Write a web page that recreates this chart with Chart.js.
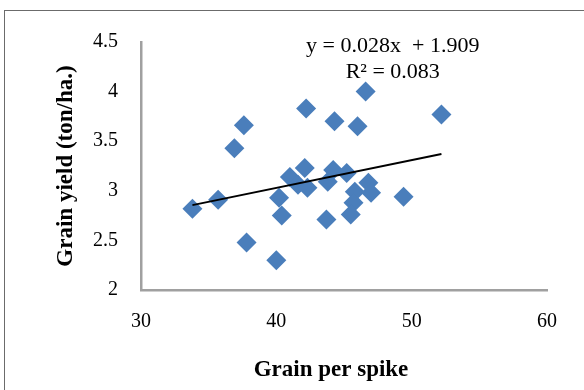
<!DOCTYPE html>
<html>
<head>
<meta charset="utf-8">
<script src="https://cdn.jsdelivr.net/npm/chart.js@4.4.1/dist/chart.umd.min.js"></script>
<style>
html,body{margin:0;padding:0;background:#fff;overflow:hidden;}
#wrap{position:relative;width:584px;height:390px;}
#frame{position:absolute;left:4px;top:10px;width:620px;height:420px;border:1.5px solid #6b6b6b;box-sizing:border-box;pointer-events:none;}
canvas{position:absolute;left:0;top:0;}
</style>
</head>
<body>
<div id="wrap">
<canvas id="c" width="584" height="390"></canvas>
<div id="frame"></div>
</div>
<script>
const grainPerSpike = [33.8, 35.7, 36.9, 37.6, 37.8, 40.0, 40.2, 40.4, 42.2, 41.0, 41.6, 42.3, 42.1, 43.7, 43.8, 44.2, 45.2, 45.8, 46.8, 47.0, 45.7, 45.5, 49.4, 44.3, 46.0, 46.6, 52.2];
const grainYield   = [2.82, 2.91, 3.43, 3.66, 2.48, 2.30, 2.93, 2.75, 3.83, 3.14, 3.06, 3.03, 3.23, 2.71, 3.09, 3.21, 3.18, 2.99, 3.08, 2.98, 2.88, 2.76, 2.94, 3.70, 3.65, 4.00, 3.77];
const xTicks = [30, 40, 50, 60];
const yTicks = [2, 2.5, 3, 3.5, 4, 4.5];
const slope = 0.028, intercept = 1.909;
const eqLabel = "y = 0.028x  + 1.909";
const r2Label = "R² = 0.083";
const xTitle = "Grain per spike";
const yTitle = "Grain yield (ton/ha.)";

const points = grainPerSpike.map((x, i) => ({x: x, y: grainYield[i]}));
const xmin = Math.min(...grainPerSpike), xmax = Math.max(...grainPerSpike);
const trend = [xmin, xmax].map(x => ({x: x, y: slope * x + intercept}));

const serif = "'Liberation Serif', 'Times New Roman', serif";

const textPlugin = {
  id: 'texts',
  afterDatasetsDraw(chart) {
    const ctx = chart.ctx, a = chart.chartArea;
    ctx.save();
    ctx.fillStyle = '#000';
    ctx.textAlign = 'center';
    ctx.textBaseline = 'middle';
    ctx.font = "22px " + serif;
    const cx = a.left + (a.right - a.left) * 0.62;
    ctx.fillText(eqLabel, cx, a.top + 4);
    ctx.fillText(r2Label, cx, a.top + 30);
    // axis titles
    ctx.font = "bold 23px " + serif;
    ctx.fillText(xTitle, a.left + (a.right - a.left) * 0.468, a.bottom + 80);
    ctx.translate(66, a.top + (a.bottom - a.top) * 0.5);
    ctx.rotate(-Math.PI / 2);
    ctx.fillText(yTitle, 0, 0);
    ctx.restore();
  }
};

new Chart(document.getElementById('c'), {
  type: 'scatter',
  data: {
    datasets: [
      {
        data: points,
        pointStyle: 'rectRot',
        pointRadius: 10,
        pointHoverRadius: 10,
        backgroundColor: '#4a7ebb',
        borderColor: '#4a7ebb',
        borderWidth: 0,
        order: 2
      },
      {
        type: 'line',
        data: trend,
        borderColor: '#000',
        borderWidth: 2,
        pointRadius: 0,
        fill: false,
        order: 1
      }
    ]
  },
  options: {
    responsive: false,
    animation: false,
    events: [],
    layout: { padding: { left: 0, right: 37, top: 42, bottom: 0 } },
    plugins: { legend: { display: false }, tooltip: { enabled: false } },
    scales: {
      x: {
        type: 'linear',
        min: xTicks[0], max: xTicks[xTicks.length - 1],
        afterBuildTicks(s) { s.ticks = xTicks.map(v => ({value: v})); },
        grid: { display: false, drawTicks: false },
        border: { display: true, color: '#a0a0a0', width: 2.5 },
        ticks: { color: '#000', font: { family: serif, size: 20 }, padding: 20, maxRotation: 0 },
        afterFit(s) { s.height = 100; }
      },
      y: {
        type: 'linear',
        min: yTicks[0], max: yTicks[yTicks.length - 1],
        afterBuildTicks(s) { s.ticks = yTicks.map(v => ({value: v})); },
        grid: { display: false, drawTicks: false },
        border: { display: true, color: '#a0a0a0', width: 2.5 },
        ticks: { color: '#000', font: { family: serif, size: 20 }, padding: 23, callback: v => String(v) },
        afterFit(s) { s.width = 141; }
      }
    }
  },
  plugins: [textPlugin]
});
</script>
</body>
</html>
